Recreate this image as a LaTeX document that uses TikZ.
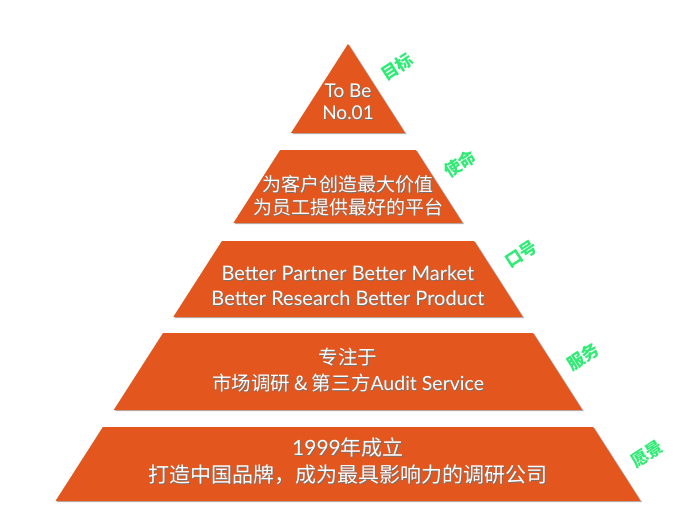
\documentclass[tikz,border=0pt]{standalone}
\usepackage{fontspec}
\setmainfont{Lato}
\newfontfamily\cjk{Noto Sans CJK SC}
\usetikzlibrary{shadows}
\definecolor{brick}{RGB}{227,86,29}
\definecolor{mint}{RGB}{45,235,115}
% white text with a dark copy behind it
\newcommand\shtext[1]{\makebox[0pt][l]{\kern0.9pt\raisebox{-0.9pt}{\textcolor{black!55}{#1}}}#1}
\begin{document}
\begin{tikzpicture}[x=1pt, y=-1pt,
  layer/.style={fill=brick, drop shadow={shadow xshift=1.5pt, shadow yshift=-1pt, opacity=0.3, fill=black}},
  words/.style={text=white, align=center, inner sep=0pt, font=\fontsize{20}{25}\selectfont},
  tag/.style={text=mint, rotate=33, inner sep=0pt, font=\cjk\bfseries\fontsize{17}{17}\selectfont}]
  \useasboundingbox (0,0) rectangle (700,525);
  % pyramid
  \path[layer] (348,44) -- (405,133) -- (291,133) -- cycle;
  \foreach \top/\bot in {150/223, 241/317, 333/410, 427/501}
    \path[layer] ({348-0.64*(\top-44)},\top) -- ({348+0.64*(\top-44)},\top)
      -- ({348+0.64*(\bot-44)},\bot) -- ({348-0.64*(\bot-44)},\bot) -- cycle;
  % texts
  \node[words, font=\fontsize{19}{22}\selectfont] (goal) at (348,102) {\shtext{To Be}\\\shtext{No.01}};
  \node[words, font=\cjk\fontsize{19}{23}\selectfont] (mission) at (348,196)
    {\shtext{为客户创造最大价值}\\\shtext{为员工提供最好的平台}};
  \node[words] (slogan) at (348,286)
    {\shtext{Better Partner Better Market}\\\shtext{Better Research Better Product}};
  \node[words, font=\fontsize{19.5}{26}\selectfont] (service) at (348,371)
    {\shtext{\cjk 专注于}\\\shtext{{\cjk 市场调研 \& 第三方}Audit Service}};
  \node[words, font=\cjk\fontsize{21}{27}\selectfont] (vision) at (348,462)
    {\shtext{{\rmfamily 1999}年成立}\\\shtext{打造中国品牌，成为最具影响力的调研公司}};
  % tags
  \node[tag] (goaltag) at (397,67) {目标};
  \node[tag] (missiontag) at (460,164) {使命};
  \node[tag] (slogantag) at (521,254) {口号};
  \node[tag] (servicetag) at (583,357) {服务};
  \node[tag] (visiontag) at (647,454) {愿景};
\end{tikzpicture}
\end{document}
